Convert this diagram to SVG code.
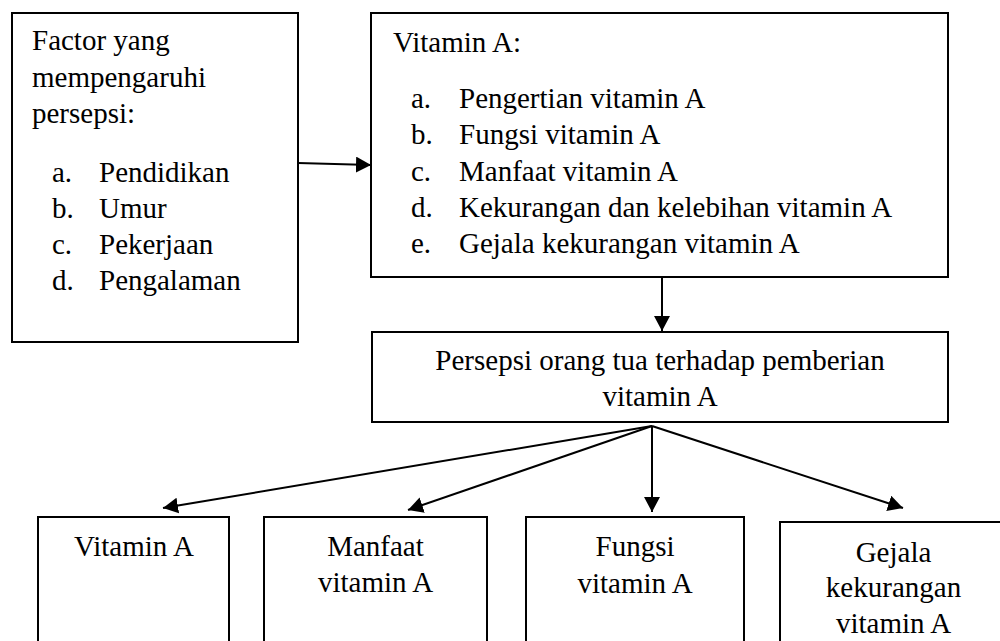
<svg xmlns="http://www.w3.org/2000/svg" width="1000" height="641" viewBox="0 0 1000 641">
<style>
.box{fill:#fff;stroke:#000;stroke-width:2}
.t{font-family:"Liberation Serif","Times New Roman",serif;font-size:29px;fill:#000}
.c{text-anchor:middle}
.conn{stroke:#000;stroke-width:2;fill:none;marker-end:url(#ah)}
</style>
<defs>
<marker id="ah" markerUnits="userSpaceOnUse" markerWidth="16" markerHeight="18" refX="15" refY="8" orient="auto">
<path d="M0,0 L15,8 L0,16 Z" fill="#000"/>
</marker>
</defs>
<rect width="1000" height="641" fill="#fff"/>
<g id="factor">
<rect class="box" x="12" y="13" width="286" height="329"/>
<text class="t" x="32" y="50">Factor yang</text>
<text class="t" x="32" y="87">mempengaruhi</text>
<text class="t" x="32" y="123">persepsi:</text>
<text class="t" x="52" y="182">a.</text><text class="t" x="99" y="182">Pendidikan</text>
<text class="t" x="52" y="218">b.</text><text class="t" x="99" y="218">Umur</text>
<text class="t" x="52" y="254">c.</text><text class="t" x="99" y="254">Pekerjaan</text>
<text class="t" x="52" y="290">d.</text><text class="t" x="99" y="290">Pengalaman</text>
</g>
<g id="vitaminA">
<rect class="box" x="371" y="13" width="577" height="264"/>
<text class="t" x="393" y="52">Vitamin A:</text>
<text class="t" x="411" y="108">a.</text><text class="t" x="459" y="108">Pengertian vitamin A</text>
<text class="t" x="411" y="144">b.</text><text class="t" x="459" y="144">Fungsi vitamin A</text>
<text class="t" x="411" y="181">c.</text><text class="t" x="459" y="181">Manfaat vitamin A</text>
<text class="t" x="411" y="217">d.</text><text class="t" x="459" y="217">Kekurangan dan kelebihan vitamin A</text>
<text class="t" x="411" y="253">e.</text><text class="t" x="459" y="253">Gejala kekurangan vitamin A</text>
</g>
<g id="persepsi">
<rect class="box" x="372" y="332" width="576" height="90"/>
<text class="t c" x="660" y="370">Persepsi orang tua terhadap pemberian</text>
<text class="t c" x="660" y="406">vitamin A</text>
</g>
<g id="b1">
<rect class="box" x="38" y="517" width="191" height="140"/>
<text class="t c" x="134" y="556">Vitamin A</text>
</g>
<g id="b2">
<rect class="box" x="264" y="517" width="223" height="140"/>
<text class="t c" x="375.5" y="556">Manfaat</text>
<text class="t c" x="375.5" y="592">vitamin A</text>
</g>
<g id="b3">
<rect class="box" x="526" y="517" width="218" height="140"/>
<text class="t c" x="635" y="556">Fungsi</text>
<text class="t c" x="635" y="593">vitamin A</text>
</g>
<g id="b4">
<rect class="box" x="780" y="522" width="230" height="140"/>
<text class="t c" x="893.5" y="562">Gejala</text>
<text class="t c" x="893.5" y="597">kekurangan</text>
<text class="t c" x="893.5" y="633">vitamin A</text>
</g>
<g id="connectors">
<line class="conn" x1="298" y1="163" x2="371" y2="165"/>
<line class="conn" x1="662" y1="278" x2="662" y2="331"/>
<line class="conn" x1="652" y1="426" x2="163" y2="508"/>
<line class="conn" x1="652" y1="426" x2="408" y2="510"/>
<line class="conn" x1="652" y1="426" x2="652" y2="512"/>
<line class="conn" x1="652" y1="426" x2="903" y2="508"/>
</g>
</svg>
